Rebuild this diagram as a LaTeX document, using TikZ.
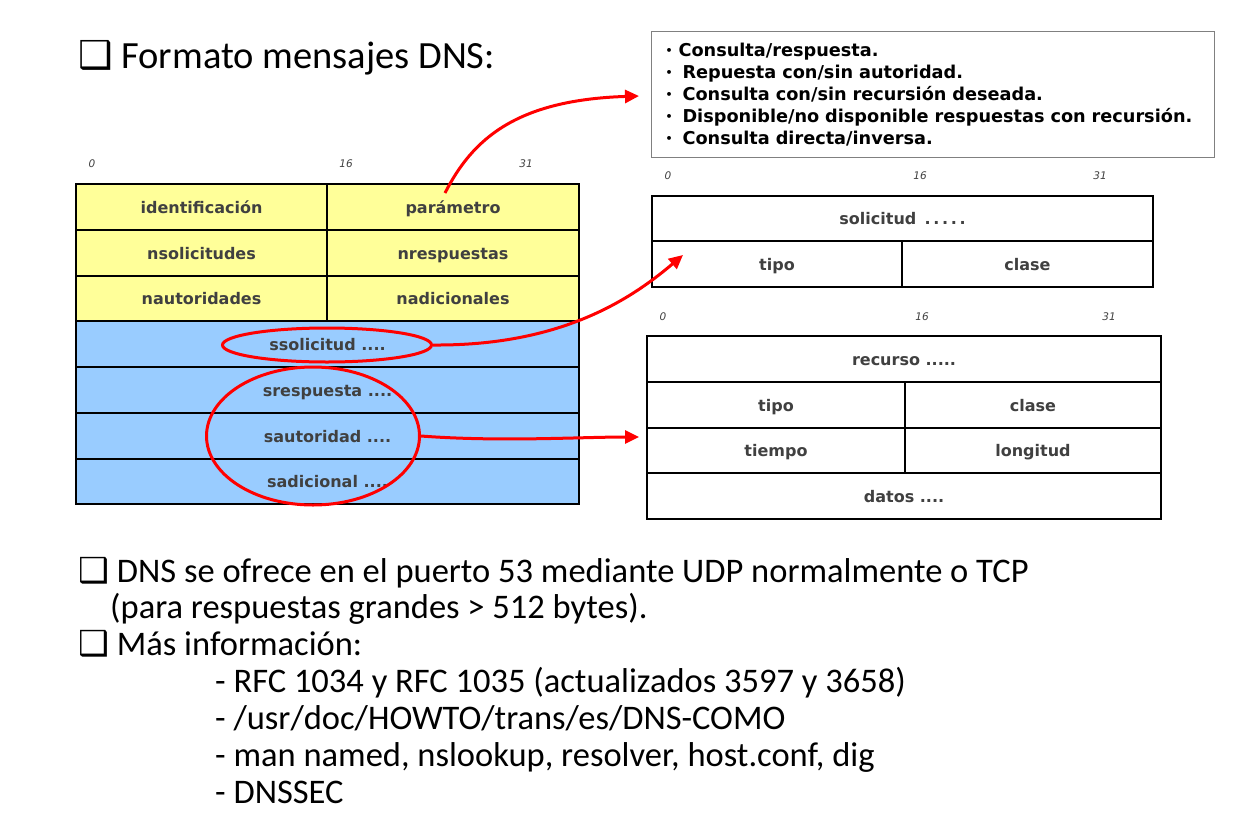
\documentclass[tikz,border=0pt]{standalone}
\usepackage{fontspec}
\setmainfont{Carlito}
\newfontfamily\fieldfont{DejaVu Sans}
\newfontfamily\symfont{DejaVu Sans}
\usetikzlibrary{shapes.geometric,arrows.meta}
\definecolor{hdrfill}{HTML}{FFFF99}
\definecolor{secfill}{HTML}{99CCFF}
\definecolor{fieldtext}{HTML}{404040}
\definecolor{markred}{HTML}{FF0000}
\newcommand{\boxbullet}{{\symfont\char"2751}}
\newcommand{\dotitem}[1]{{\fontsize{11}{11}\selectfont\raisebox{1.5pt}{\textbullet}}\hspace{#1}}
\tikzset{
  cell/.style={draw=black, line width=2, anchor=north west, inner sep=0,
    text height=14pt, text depth=2pt,
    font=\fieldfont\bfseries\fontsize{16}{20}\selectfont, text=fieldtext},
  hdrcell/.style={cell, fill=hdrfill},
  seccell/.style={cell, fill=secfill},
  plaincell/.style={cell, fill=white},
  bitlabel/.style={font=\fieldfont\itshape\fontsize{10.5}{13}\selectfont, text=fieldtext, anchor=base},
  ring/.style={ellipse, draw=markred, line width=3, inner sep=0},
  pointer/.style={draw=markred, line width=3, -{Triangle[length=14pt,width=13pt]}},
  slidetext/.style={anchor=base west, inner sep=0, font=\fontsize{34.5}{38}\selectfont},
}
\begin{document}
\begin{tikzpicture}[x=1pt,y=-1pt]
\useasboundingbox (0,0) rectangle (1255,817);

% title
\node[anchor=base west, inner sep=0, font=\fontsize{38.5}{42}\selectfont] (title) at (78,68) {\boxbullet\ Formato mensajes DNS:};

% flag summary box
\node[draw=gray, line width=1, anchor=north west, minimum height=126,
  inner xsep=14, inner ysep=0, text width=535, align=left,
  font=\fieldfont\bfseries\fontsize{17.7}{22}\selectfont] (flags) at (651,31)
  {\dotitem{6pt}Consulta/respuesta.\\
   \dotitem{10pt}Repuesta con/sin autoridad.\\
   \dotitem{10pt}Consulta con/sin recursión deseada.\\
   \dotitem{10pt}Disponible/no disponible respuestas con recursión.\\
   \dotitem{10pt}Consulta directa/inversa.};

% DNS message layout
\node[bitlabel] (m0) at (92,167) {0};
\node[bitlabel] (m16) at (346,167) {16};
\node[bitlabel] (m31) at (526,167) {31};
\node[hdrcell, minimum width=251, minimum height=46] (ident) at (75,183) {identificación};
\node[hdrcell, minimum width=252, minimum height=46] (param) at (326,183) {parámetro};
\node[hdrcell, minimum width=251, minimum height=46] (nsol) at (75,229) {nsolicitudes};
\node[hdrcell, minimum width=252, minimum height=46] (nresp) at (326,229) {nrespuestas};
\node[hdrcell, minimum width=251, minimum height=45] (naut) at (75,275) {nautoridades};
\node[hdrcell, minimum width=252, minimum height=45] (nadic) at (326,275) {nadicionales};
\node[seccell, minimum width=503, minimum height=46] (ssol) at (75,320) {ssolicitud ....};
\node[seccell, minimum width=503, minimum height=46] (sresp) at (75,366) {srespuesta ....};
\node[seccell, minimum width=503, minimum height=46] (saut) at (75,412) {sautoridad ....};
\node[seccell, minimum width=503, minimum height=45] (sadic) at (75,458) {sadicional ....};

% question layout
\node[bitlabel] (q0) at (668,179) {0};
\node[bitlabel] (q16) at (920,179) {16};
\node[bitlabel] (q31) at (1100,179) {31};
\node[plaincell, minimum width=501, minimum height=45] (qsol) at (651,195) {solicitud \,.\,.\,.\,.\,.};
\node[plaincell, minimum width=250, minimum height=46] (qtipo) at (651,240) {tipo};
\node[plaincell, minimum width=251, minimum height=46] (qclase) at (901,240) {clase};

% resource record layout
\node[bitlabel] (r0) at (663,320) {0};
\node[bitlabel] (r16) at (922,320) {16};
\node[bitlabel] (r31) at (1109,320) {31};
\node[plaincell, minimum width=514, minimum height=46] (rrec) at (646,335) {recurso .....};
\node[plaincell, minimum width=258, minimum height=46] (rtipo) at (646,381) {tipo};
\node[plaincell, minimum width=256, minimum height=46] (rclase) at (904,381) {clase};
\node[plaincell, minimum width=258, minimum height=45] (rtiempo) at (646,427) {tiempo};
\node[plaincell, minimum width=256, minimum height=45] (rlong) at (904,427) {longitud};
\node[plaincell, minimum width=514, minimum height=46] (rdatos) at (646,472) {datos ....};

% highlight rings
\node[ring, minimum width=209, minimum height=34] (ringq) at (327,345) {};
\node[ring, minimum width=213, minimum height=138] (ringrr) at (313,436) {};

% pointers
\coordinate (p1s) at (445,193);
\coordinate (p1e) at (639,96);
\coordinate (p2e) at (683,255);
\coordinate (p3e) at (639,437);
\draw[pointer] (p1s) .. controls (472,140) and (515,100) .. (p1e);
\draw[pointer] (ringq.east) .. controls (560,346) and (630,300) .. (p2e);
\draw[pointer] (ringrr.east) .. controls (500,442) and (580,437) .. (p3e);

% notes
\node[slidetext] (n1) at (78,582) {\boxbullet\ DNS se ofrece en el puerto 53 mediante UDP normalmente o TCP};
\node[slidetext] (n2) at (110,618) {(para respuestas grandes > 512 bytes).};
\node[slidetext] (n3) at (78,655) {\boxbullet\ Más información:};
\node[slidetext] (n4) at (215,692) {- RFC 1034 y RFC 1035 (actualizados 3597 y 3658)};
\node[slidetext] (n5) at (215,729) {- /usr/doc/HOWTO/trans/es/DNS-COMO};
\node[slidetext] (n6) at (215,766) {- man named, nslookup, resolver, host.conf, dig};
\node[slidetext] (n7) at (215,803) {- DNSSEC};
\end{tikzpicture}
\end{document}
